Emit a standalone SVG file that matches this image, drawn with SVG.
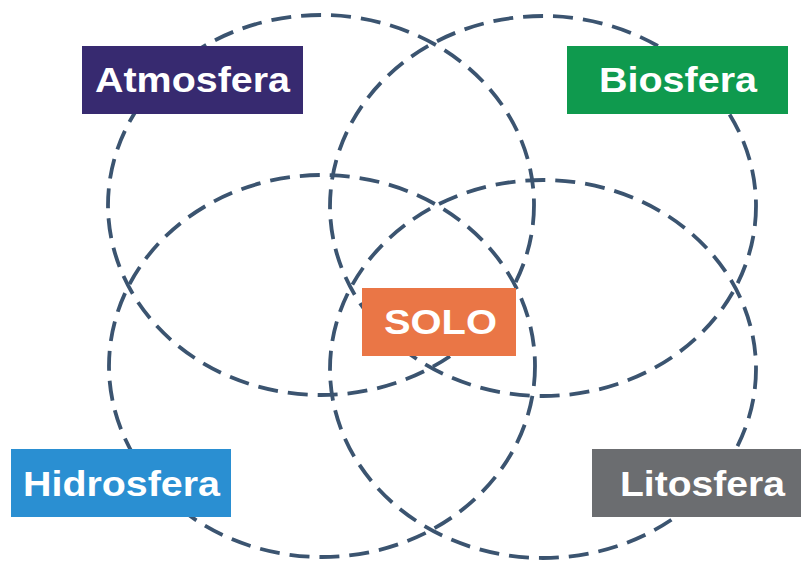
<svg xmlns="http://www.w3.org/2000/svg" width="801" height="562" viewBox="0 0 801 562">
<style>
.ring{fill:none;stroke:#3b5470;stroke-width:3.8;stroke-dasharray:20 10}
.lbl{font-family:"Liberation Sans",Arial,sans-serif;font-weight:bold;font-size:35px;fill:#ffffff}
</style>
<rect width="801" height="562" fill="#ffffff"/>
<g id="connectors">
<ellipse class="ring" cx="321" cy="205" rx="213" ry="190"/>
<ellipse class="ring" cx="543" cy="206" rx="213" ry="190"/>
<ellipse class="ring" cx="322" cy="366" rx="213" ry="191"/>
<ellipse class="ring" cx="543" cy="369" rx="213" ry="189"/>
</g>
<g id="atmosfera">
<rect x="82" y="46" width="221" height="68" fill="#372a70"/>
<text class="lbl" x="95" y="92" textLength="195" lengthAdjust="spacingAndGlyphs">Atmosfera</text>
</g>
<g id="biosfera">
<rect x="567" y="46" width="221" height="68" fill="#0f9a4e"/>
<text class="lbl" x="599" y="92" textLength="158" lengthAdjust="spacingAndGlyphs">Biosfera</text>
</g>
<g id="hidrosfera">
<rect x="11" y="449" width="220" height="68" fill="#2a8fd2"/>
<text class="lbl" x="23" y="496" textLength="197" lengthAdjust="spacingAndGlyphs">Hidrosfera</text>
</g>
<g id="litosfera">
<rect x="592" y="449" width="209" height="68" fill="#6b6d70"/>
<text class="lbl" x="620" y="496" textLength="165" lengthAdjust="spacingAndGlyphs">Litosfera</text>
</g>
<g id="solo">
<rect x="362" y="288" width="154" height="68" fill="#ea7646"/>
<text class="lbl" x="384" y="334" textLength="113" lengthAdjust="spacingAndGlyphs">SOLO</text>
</g>
</svg>
